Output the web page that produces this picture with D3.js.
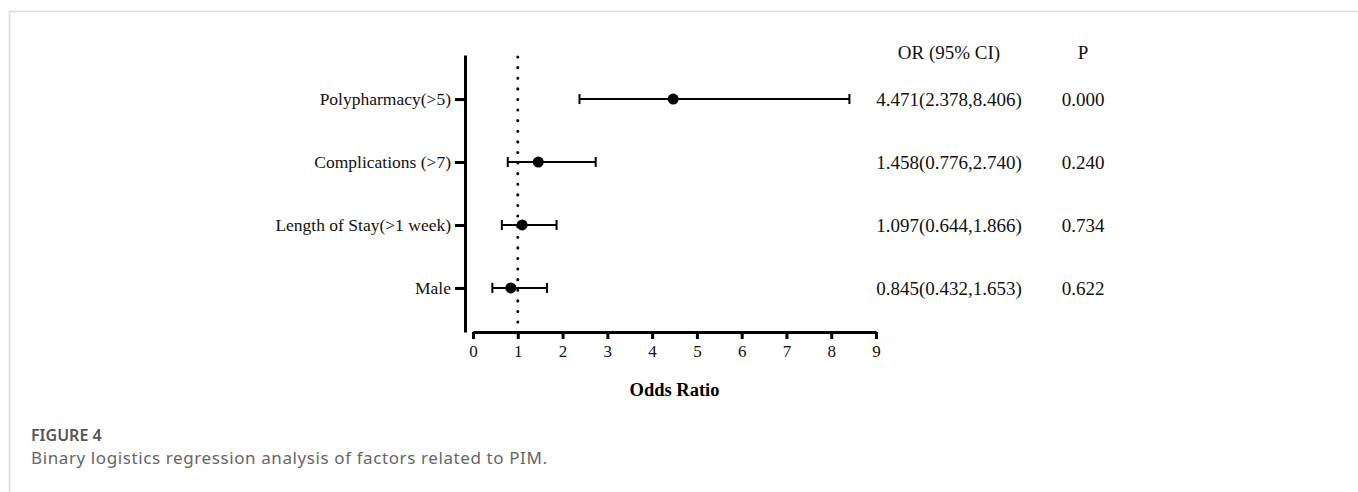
<!DOCTYPE html>
<html>
<head>
<meta charset="utf-8">
<script src="https://cdn.jsdelivr.net/npm/d3@7"></script>
<style>
  body { margin: 0; background: #fff; }
  svg { display: block; }
</style>
</head>
<body>
<div id="chart"></div>
<script>
// data
const factors = ["Polypharmacy(>5)", "Complications (>7)", "Length of Stay(>1 week)", "Male"];
const oddsRatio = [4.471, 1.458, 1.097, 0.845];
const ciLow = [2.378, 0.776, 0.644, 0.432];
const ciHigh = [8.406, 2.740, 1.866, 1.653];
const orText = ["4.471(2.378,8.406)", "1.458(0.776,2.740)", "1.097(0.644,1.866)", "0.845(0.432,1.653)"];
const pText = ["0.000", "0.240", "0.734", "0.622"];
const xTicks = [0, 1, 2, 3, 4, 5, 6, 7, 8, 9];

const rows = factors.map((f, i) => ({
    name: f, or: oddsRatio[i], lo: ciLow[i], hi: ciHigh[i], orText: orText[i], p: pText[i]
}));

const width = 1358, height = 492;
const serif = "'Liberation Serif', 'Times New Roman', serif";

const svg = d3.select("#chart").append("svg")
    .attr("width", width)
    .attr("height", height);

// card frame (top + left edge)
svg.append("path")
    .attr("d", "M9.5," + height + "V11.5H" + width)
    .attr("fill", "none")
    .attr("stroke", "#dcdcdc")
    .attr("stroke-width", 1.5);

const x = d3.scaleLinear().domain([0, 9]).range([473, 876]);
const y = d3.scalePoint().domain(factors).range([55, 332]).padding(0.7);

// y axis
const yAxis = svg.append("g")
    .attr("transform", "translate(465,0)")
    .call(d3.axisLeft(y).tickSize(10).tickSizeOuter(0).tickPadding(4));
yAxis.select(".domain").attr("stroke-width", 3);
yAxis.selectAll(".tick line").attr("stroke-width", 3);
yAxis.selectAll(".tick text")
    .attr("font-family", serif)
    .attr("font-size", 17.5)
    .attr("fill", "#111");

// x axis
const xAxis = svg.append("g")
    .attr("transform", "translate(0,332)")
    .call(d3.axisBottom(x).tickValues(xTicks).tickSize(7).tickSizeOuter(0).tickPadding(6));
xAxis.select(".domain").attr("stroke-width", 3);
xAxis.selectAll(".tick line").attr("stroke-width", 3);
xAxis.selectAll(".tick text")
    .attr("font-family", serif)
    .attr("font-size", 17)
    .attr("fill", "#111");

svg.append("text")
    .attr("x", (x(0) + x(9)) / 2)
    .attr("y", 396)
    .attr("text-anchor", "middle")
    .attr("font-family", serif)
    .attr("font-weight", "bold")
    .attr("font-size", 18.5)
    .text("Odds Ratio");

// reference line at OR = 1
svg.append("line")
    .attr("x1", x(1)).attr("x2", x(1))
    .attr("y1", 57).attr("y2", 330)
    .attr("stroke", "#000")
    .attr("stroke-width", 3)
    .attr("stroke-linecap", "round")
    .attr("stroke-dasharray", "0.1 10.5");

// error bars
const bars = svg.append("g")
    .selectAll("g")
    .data(rows)
    .join("g")
    .attr("transform", d => "translate(0," + y(d.name) + ")");

bars.append("line")
    .attr("x1", d => x(d.lo)).attr("x2", d => x(d.hi))
    .attr("stroke", "#000").attr("stroke-width", 2);

bars.selectAll(".cap")
    .data(d => [d.lo, d.hi])
    .join("line")
    .attr("class", "cap")
    .attr("x1", v => x(v)).attr("x2", v => x(v))
    .attr("y1", -5).attr("y2", 5)
    .attr("stroke", "#000").attr("stroke-width", 2);

bars.append("circle")
    .attr("cx", d => x(d.or))
    .attr("r", 5.5)
    .attr("fill", "#000");

// table columns
const orCol = 949, pCol = 1083;
svg.append("text")
    .attr("x", orCol).attr("y", 59)
    .attr("text-anchor", "middle")
    .attr("font-family", serif).attr("font-size", 19)
    .attr("fill", "#111")
    .text("OR (95% CI)");
svg.append("text")
    .attr("x", pCol).attr("y", 59)
    .attr("text-anchor", "middle")
    .attr("font-family", serif).attr("font-size", 19)
    .attr("fill", "#111")
    .text("P");

bars.append("text")
    .attr("x", orCol).attr("dy", "0.35em")
    .attr("text-anchor", "middle")
    .attr("font-family", serif).attr("font-size", 19)
    .attr("fill", "#111")
    .text(d => d.orText);

bars.append("text")
    .attr("x", pCol).attr("dy", "0.35em")
    .attr("text-anchor", "middle")
    .attr("font-family", serif).attr("font-size", 19)
    .attr("fill", "#111")
    .text(d => d.p);

// caption
svg.append("text")
    .attr("x", 31).attr("y", 441)
    .attr("font-family", "'Noto Sans', sans-serif")
    .attr("font-size", 16)
    .attr("font-weight", 600)
    .attr("fill", "#555")
    .text("FIGURE 4");
svg.append("text")
    .attr("x", 31).attr("y", 464)
    .attr("font-family", "'Noto Sans', sans-serif")
    .attr("font-size", 17)
    .attr("letter-spacing", 0.6)
    .attr("fill", "#666")
    .text("Binary logistics regression analysis of factors related to PIM.");
</script>
</body>
</html>
